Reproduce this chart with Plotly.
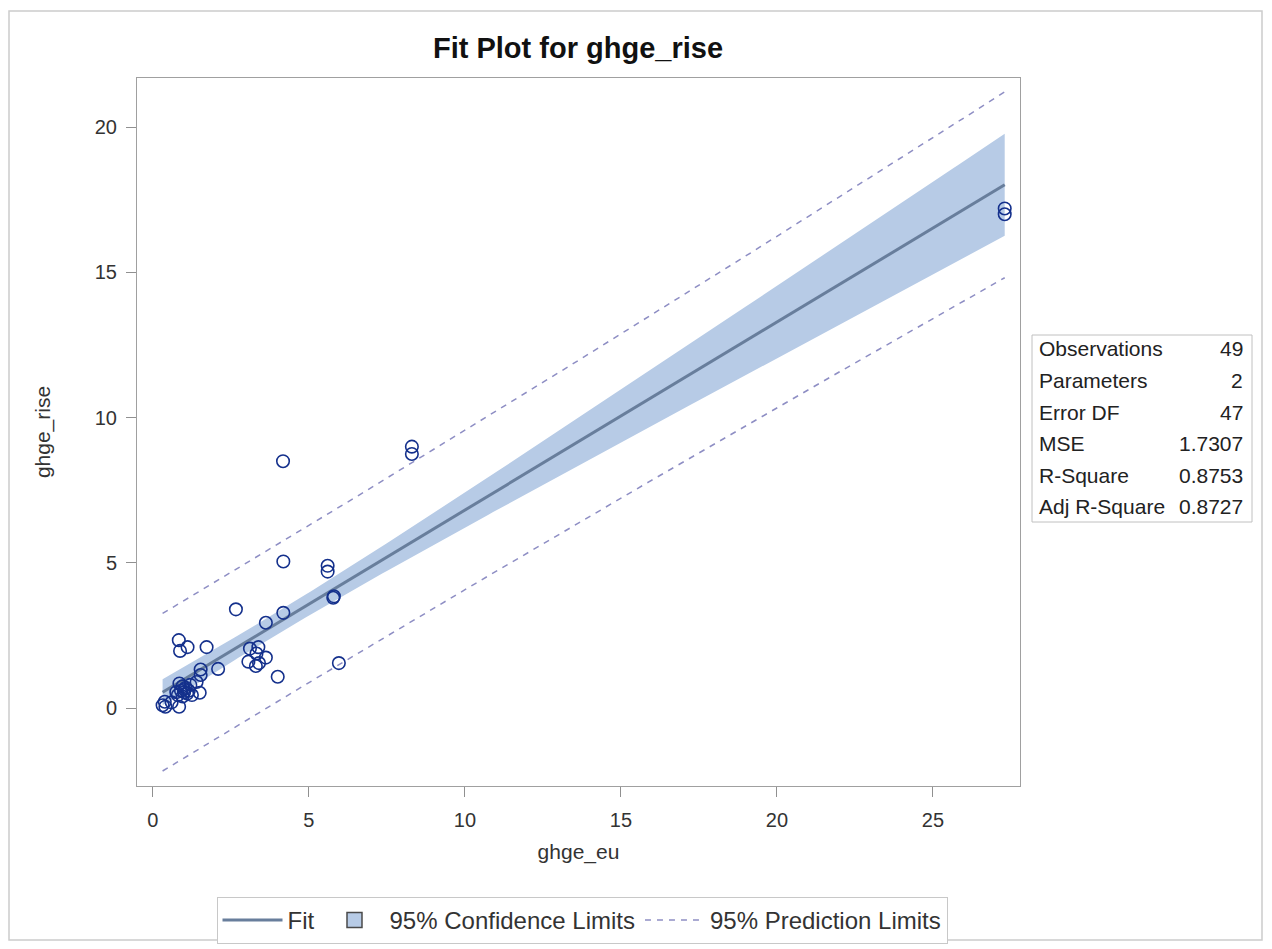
import numpy as np
import plotly.graph_objects as go

# ---- data ----
ghge_eu = [27.3, 27.3, 8.3, 8.3, 4.17, 4.18, 5.6, 5.6, 5.8, 5.78,
           2.66, 4.18, 3.62, 0.83, 0.87, 1.11, 1.72, 3.11, 3.38, 3.32,
           3.62, 3.06, 3.3, 3.4, 4.0, 5.96, 2.09, 1.53, 1.53, 1.5,
           0.31, 0.38, 0.84, 0.6, 0.85, 0.95, 1.05, 1.2, 1.4, 0.9,
           1.0, 1.1, 0.8, 0.95, 1.25, 1.15, 0.75, 1.0, 0.4]
ghge_rise = [17.2, 17.0, 9.0, 8.75, 8.5, 5.05, 4.9, 4.7, 3.85, 3.8,
             3.4, 3.28, 2.94, 2.34, 1.97, 2.1, 2.1, 2.05, 2.1, 1.88,
             1.74, 1.6, 1.45, 1.55, 1.08, 1.55, 1.35, 1.33, 1.14, 0.53,
             0.1, 0.22, 0.05, 0.2, 0.85, 0.75, 0.7, 0.8, 0.9, 0.6,
             0.55, 0.5, 0.45, 0.4, 0.45, 0.6, 0.55, 0.65, 0.05]

stat_labels = ["Observations", "Parameters", "Error DF", "MSE", "R-Square", "Adj R-Square"]
stat_values = ["49", "2", "47", "1.7307", "0.8753", "0.8727"]

x_ticks = [0, 5, 10, 15, 20, 25]
y_ticks = [0, 5, 10, 15, 20]

T_975_47 = 2.0117  # t quantile for 95% limits, 47 error df

# ---- regression fit (OLS) ----
x = np.array(ghge_eu)
y = np.array(ghge_rise)
n = len(x)
xbar = x.mean()
sxx = ((x - xbar) ** 2).sum()
b1 = ((x - xbar) * (y - y.mean())).sum() / sxx
b0 = y.mean() - b1 * xbar
mse = ((y - (b0 + b1 * x)) ** 2).sum() / (n - 2)
xs = np.linspace(x.min(), x.max(), 200)
fit = b0 + b1 * xs
se_mean = np.sqrt(mse * (1 / n + (xs - xbar) ** 2 / sxx))
se_pred = np.sqrt(mse * (1 + 1 / n + (xs - xbar) ** 2 / sxx))
cl_lo, cl_hi = fit - T_975_47 * se_mean, fit + T_975_47 * se_mean
pl_lo, pl_hi = fit - T_975_47 * se_pred, fit + T_975_47 * se_pred

FONT = "Liberation Sans, Arial, sans-serif"
fit_color = "#687E9C"
band_color = "#B7CBE6"
pred_color = "#8E8EC4"
mark_color = "#14308C"

fig = go.Figure()
fig.add_trace(go.Scatter(x=xs, y=cl_lo, mode="lines", line=dict(width=0, color=band_color),
                         showlegend=False, hoverinfo="skip"))
fig.add_trace(go.Scatter(x=xs, y=cl_hi, mode="lines", line=dict(width=0, color=band_color),
                         fill="tonexty", fillcolor=band_color, showlegend=False))
fig.add_trace(go.Scatter(x=xs, y=pl_hi, mode="lines",
                         line=dict(width=1.5, color=pred_color, dash="6px,6px"),
                         name="95% Prediction Limits", legendrank=3))
fig.add_trace(go.Scatter(x=xs, y=pl_lo, mode="lines",
                         line=dict(width=1.5, color=pred_color, dash="6px,6px"),
                         showlegend=False))
fig.add_trace(go.Scatter(x=xs, y=fit, mode="lines", line=dict(width=3, color=fit_color),
                         name="Fit", legendrank=1))
# legend entry for the confidence band (square swatch)
fig.add_trace(go.Scatter(x=[None], y=[None], mode="markers", name="95% Confidence Limits",
                         marker=dict(symbol="square", size=15, color=band_color,
                                     line=dict(color="#4a4a4a", width=1.5)),
                         legendrank=2))
fig.add_trace(go.Scatter(x=ghge_eu, y=ghge_rise, mode="markers",
                         marker=dict(symbol="circle-open", size=12.5, color=mark_color,
                                     line=dict(width=1.6, color=mark_color)),
                         showlegend=False))

L, R, T, B = 137, 1020, 78, 786
W, H = 1272, 949
pw, ph = R - L, B - T

def px2paper_x(px):
    return (px - L) / pw

def px2paper_y(py):
    return (B - py) / ph

axis_common = dict(showgrid=False, zeroline=False, showline=True, mirror=True,
                   linecolor="#a0a0a0", linewidth=1, ticks="outside", ticklen=10,
                   tickcolor="#909090", tickfont=dict(size=20, color="#333333", family=FONT),
                   title_font=dict(size=21, color="#333333", family=FONT), automargin=False)

fig.update_layout(
    width=W, height=H,
    margin=dict(l=L, r=W - R, t=T, b=H - B, autoexpand=False),
    paper_bgcolor="white", plot_bgcolor="white",
    font=dict(family=FONT, color="#333333"),
    title=dict(text="<b>Fit Plot for ghge_rise</b>", x=578 / W,
               xanchor="center", y=1 - 48 / H, yanchor="middle",
               font=dict(size=29, color="#111111", family=FONT)),
    xaxis=dict(range=[-0.51, 27.79], tickvals=x_ticks, ticklabelstandoff=6,
               title=dict(text="ghge_eu", standoff=14), **axis_common),
    yaxis=dict(range=[-2.68, 21.69], tickvals=y_ticks, ticklabelstandoff=5,
               title=dict(text="ghge_rise", standoff=38), **axis_common),
    legend=dict(orientation="h", x=px2paper_x(582), xanchor="center", y=px2paper_y(897),
                yanchor="top", bordercolor="#c8c8c8", borderwidth=1, bgcolor="white",
                traceorder="normal", itemwidth=60,
                font=dict(size=24, color="#333333", family=FONT)),
    showlegend=True,
)

# outer border
fig.add_shape(type="rect", xref="paper", yref="paper",
              x0=px2paper_x(9), x1=px2paper_x(1262), y0=px2paper_y(940), y1=px2paper_y(11),
              line=dict(color="#cccccc", width=1.5), layer="below")

# statistics table
fig.add_shape(type="rect", xref="paper", yref="paper",
              x0=px2paper_x(1032), x1=px2paper_x(1252), y0=px2paper_y(522), y1=px2paper_y(335),
              line=dict(color="#c0c0c0", width=1))
row_y = [348, 380, 412, 443, 475, 507]
for lab, val, ry in zip(stat_labels, stat_values, row_y):
    fig.add_annotation(xref="paper", yref="paper", x=px2paper_x(1037), y=px2paper_y(ry),
                       text=lab, showarrow=False, xanchor="left", yanchor="middle",
                       font=dict(size=21, color="#222222", family=FONT))
    fig.add_annotation(xref="paper", yref="paper", x=px2paper_x(1245), y=px2paper_y(ry),
                       text=val, showarrow=False, xanchor="right", yanchor="middle",
                       font=dict(size=21, color="#222222", family=FONT))

fig.write_html("out.html", config={"displayModeBar": False},
               post_script="document.body.style.margin='0';")
